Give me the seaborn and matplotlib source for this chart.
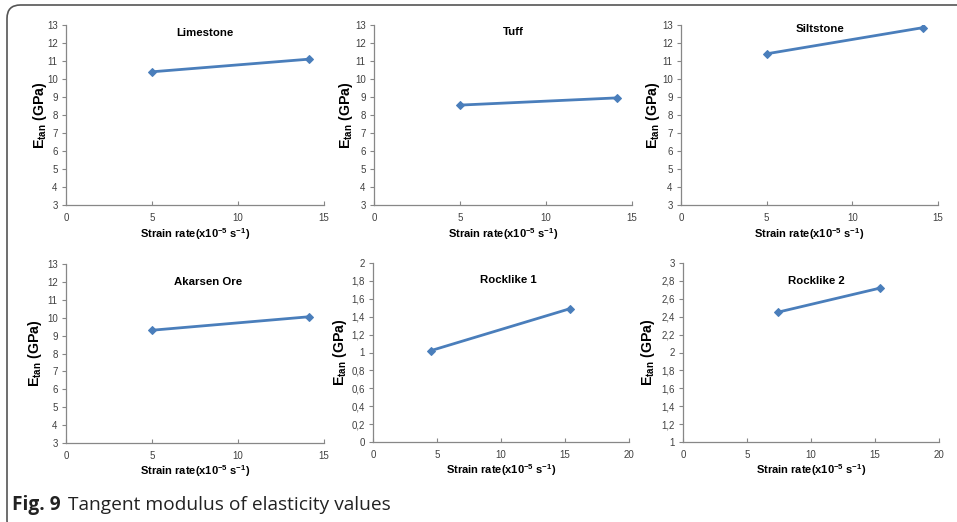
import matplotlib
matplotlib.use("Agg")
import matplotlib.pyplot as plt
import seaborn as sns
import pandas as pd
from matplotlib.ticker import FuncFormatter, MultipleLocator
from matplotlib.patches import FancyBboxPatch

# ---- data ----
materials = ["Limestone", "Tuff", "Siltstone", "Akarsen Ore", "Rocklike 1", "Rocklike 2"]
strain_limestone = [5.0, 14.1]
etan_limestone = [10.4, 11.1]
strain_tuff = [5.0, 14.1]
etan_tuff = [8.55, 8.95]
strain_siltstone = [5.0, 14.1]
etan_siltstone = [11.4, 12.85]
strain_akarsen = [5.0, 14.1]
etan_akarsen = [9.3, 10.05]
strain_rocklike1 = [4.5, 15.4]
etan_rocklike1 = [1.02, 1.49]
strain_rocklike2 = [7.4, 15.4]
etan_rocklike2 = [2.45, 2.72]

x_limits = [(0, 15), (0, 15), (0, 15), (0, 15), (0, 20), (0, 20)]
y_limits = [(3, 13), (3, 13), (3, 13), (3, 13), (0, 2), (1, 3)]
y_steps = [1, 1, 1, 1, 0.2, 0.2]
x_step = 5

xlabel_text = r"Strain rate(x10$^{\mathbf{-5}}$ s$^{\mathbf{-1}}$)"
ylabel_text = r"E$_{\mathbf{tan}}$ (GPa)"
caption_bold = "Fig. 9"
caption_text = "Tangent modulus of elasticity values"

series = [
    (strain_limestone, etan_limestone),
    (strain_tuff, etan_tuff),
    (strain_siltstone, etan_siltstone),
    (strain_akarsen, etan_akarsen),
    (strain_rocklike1, etan_rocklike1),
    (strain_rocklike2, etan_rocklike2),
]

# ---- layout (pixels in a 957x522 canvas) ----
W, H = 957, 522
# (left, right, top, bottom) of each plot area
boxes = [
    (66, 324, 25, 205),
    (374, 632, 25, 205),
    (681, 938, 25, 205),
    (66, 324, 264, 443),
    (373, 629, 263, 442),
    (683, 939, 263, 442),
]
title_pos = [(0.54, 0.955), (0.54, 0.96), (0.54, 0.975), (0.55, 0.90), (0.53, 0.905), (0.52, 0.90)]
ylabel_x = [-0.066, -0.074, -0.074, -0.085, -0.094, -0.10]

sns.set_style("white")
plt.rcParams["font.family"] = ["Liberation Sans", "DejaVu Sans"]
plt.rcParams["mathtext.fontset"] = "custom"
plt.rcParams["mathtext.rm"] = "Liberation Sans"
plt.rcParams["mathtext.bf"] = "Liberation Sans:bold"
plt.rcParams["mathtext.it"] = "Liberation Sans:italic"

fig = plt.figure(figsize=(W / 100, H / 100), dpi=100)
fig.patch.set_facecolor("white")

line_color = "#4A7EBB"
spine_color = "#878787"
tick_label_color = "#404040"

def comma_fmt(v, pos):
    s = f"{v:.1f}".rstrip("0").rstrip(".")
    return s.replace(".", ",")

for i, (name, (xs, ys)) in enumerate(zip(materials, series)):
    l, r, t, b = boxes[i]
    ax = fig.add_axes([l / W, 1 - b / H, (r - l) / W, (b - t) / H])
    df = pd.DataFrame({"strain": xs, "etan": ys})
    sns.lineplot(data=df, x="strain", y="etan", ax=ax, color=line_color,
                 marker="D", markersize=4.5, markeredgecolor=line_color,
                 linewidth=2.0)
    ax.set_xlim(*x_limits[i])
    ax.set_ylim(*y_limits[i])
    ax.xaxis.set_major_locator(MultipleLocator(x_step))
    ax.yaxis.set_major_locator(MultipleLocator(y_steps[i]))
    ax.yaxis.set_major_formatter(FuncFormatter(comma_fmt))
    for side in ["top", "right"]:
        ax.spines[side].set_visible(False)
    for side in ["left", "bottom"]:
        ax.spines[side].set_color(spine_color)
        ax.spines[side].set_linewidth(0.9)
    ax.tick_params(axis="y", direction="out", length=3, width=0.8, color=spine_color,
                   labelsize=7, labelcolor=tick_label_color, pad=3, left=True)
    ax.tick_params(axis="x", direction="in", length=3, width=0.8, color=spine_color,
                   labelsize=7, labelcolor=tick_label_color, pad=6, bottom=True)
    ax.set_xlabel(xlabel_text, fontsize=8, fontweight="bold", color="black")
    ax.set_ylabel(ylabel_text, fontsize=10.2, fontweight="bold", color="black")
    ax.xaxis.set_label_coords(0.5, -0.115)
    ax.yaxis.set_label_coords(ylabel_x[i], 0.5)
    ax.text(title_pos[i][0], title_pos[i][1], name, transform=ax.transAxes,
            ha="center", va="center", fontsize=8.2, fontweight="bold", color="black")
    ax.set_facecolor("none")
    ax.grid(False)

# frame
frame = FancyBboxPatch((7 / W, -12 / H), 1.2, 529 / H,
                       boxstyle="round,pad=0,rounding_size=0.014",
                       transform=fig.transFigure, fill=False,
                       edgecolor="#555555", linewidth=1.2, mutation_aspect=W / H,
                       clip_on=False)
fig.patches.append(frame)

# caption
t1 = fig.text(12 / W, 1 - 505 / H, caption_bold, fontsize=13.8, fontweight="bold",
              family=["Open Sans", "DejaVu Sans"], va="center", ha="left", color="#222222")
fig.canvas.draw()
bb = t1.get_window_extent()
fig.text((bb.x1 + 7) / W, 1 - 505 / H, caption_text, fontsize=13.8,
         family=["Open Sans", "DejaVu Sans"], va="center", ha="left", color="#222222")

fig.savefig("out.png", dpi=100)
